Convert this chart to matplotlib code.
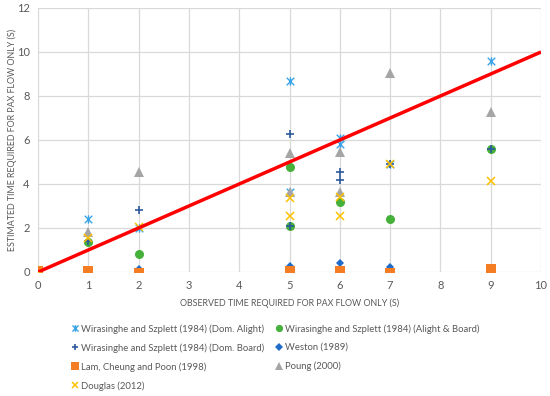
import matplotlib
matplotlib.use("Agg")
import matplotlib.pyplot as plt
from matplotlib.path import Path

plt.rcParams['font.family'] = ['Lato', 'DejaVu Sans']

# Data
dom_alight_x = [0, 1, 2, 5, 5, 6, 6, 7, 9]
dom_alight_y = [0, 2.4, 2.0, 8.68, 3.62, 6.08, 5.82, 4.91, 9.6]

alight_board_x = [0, 1, 2, 5, 5, 6, 7, 9]
alight_board_y = [0, 1.35, 0.8, 4.79, 2.09, 3.17, 2.4, 5.59]

dom_board_x = [0, 1, 2, 5, 5, 6, 6, 7, 9]
dom_board_y = [0, 1.4, 2.8, 6.27, 2.09, 4.55, 4.18, 4.91, 5.59]

weston_x = [0, 1, 2, 5, 6, 7, 9]
weston_y = [0, 0.0, 0.15, 0.27, 0.39, 0.21, 0.1]

lam_x = [0, 1, 2, 5, 6, 7, 9]
lam_y = [0.03, 0.05, -0.04, 0.05, 0.04, -0.03, 0.12]

poung_x = [1, 2, 5, 5, 6, 6, 7, 9]
poung_y = [1.82, 4.55, 5.42, 3.64, 5.45, 3.63, 9.06, 7.26]

douglas_x = [0, 1, 2, 5, 5, 6, 6, 7, 9]
douglas_y = [0, 1.55, 2.05, 3.38, 2.55, 3.42, 2.55, 4.91, 4.12]

line_x = [0, 10]
line_y = [0, 10]

xlabel = "OBSERVED TIME REQUIRED FOR PAX FLOW ONLY (S)"
ylabel = "ESTIMATED TIME REQUIRED FOR PAX FLOW ONLY (S)"

star = Path([(-1, -1), (1, 1), (-1, 1), (1, -1), (0, -1.1), (0, 1.1)],
            [Path.MOVETO, Path.LINETO, Path.MOVETO, Path.LINETO, Path.MOVETO, Path.LINETO])

fig = plt.figure(figsize=(5.5, 3.96), dpi=100)
ax = fig.add_axes([38/550, 1 - 272/396, (541-38)/550, (272-8)/396])

series = [
    ("Wirasinghe and Szplett (1984) (Dom. Alight)", dom_alight_x, dom_alight_y, star, "#3AA3E8", 6, 1.0),
    ("Wirasinghe and Szplett (1984) (Alight & Board)", alight_board_x, alight_board_y, "o", "#45B03A", 6.5, 0),
    ("Wirasinghe and Szplett (1984) (Dom. Board)", dom_board_x, dom_board_y, "+", "#2C5A9C", 6, 1.2),
    ("Weston (1989)", weston_x, weston_y, "D", "#1F6BC8", 4.5, 0),
    ("Lam, Cheung and Poon (1998)", lam_x, lam_y, "s", "#F47C22", 6.5, 0),
    ("Poung (2000)", poung_x, poung_y, "^", "#A5A5A5", 6.5, 0),
    ("Douglas (2012)", douglas_x, douglas_y, "x", "#FFC000", 6, 1.1),
]

handles = {}
for i, (name, xs, ys, m, c, ms, mew) in enumerate(series):
    filled = m in ("o", "D", "s", "^")
    h, = ax.plot(xs, ys, linestyle="none", marker=m, markersize=ms,
                 color=c, markeredgewidth=mew if not filled else 0,
                 markerfacecolor=c, label=name, zorder=3 + i)
    handles[name] = h

ax.plot(line_x, line_y, color="#FF0000", linewidth=2.5, zorder=20, solid_capstyle="butt")

ax.set_xlim(0, 10)
ax.set_ylim(0, 12)
ax.set_xticks(range(0, 11))
ax.set_yticks(range(0, 13, 2))
ax.grid(True, color="#D9D9D9", linewidth=0.9)
ax.set_axisbelow(True)
for s in ax.spines.values():
    s.set_visible(False)
ax.tick_params(length=0, labelsize=8, colors="#595959", pad=6)
ax.set_xlabel(xlabel, fontsize=6.4, color="#595959")
ax.xaxis.set_label_coords(0.5, -(303 - 272) / 264, transform=ax.transAxes)
ax.set_ylabel(ylabel, fontsize=6.4, color="#595959")
ax.yaxis.set_label_coords(-(38 - 12) / 503, 0.5, transform=ax.transAxes)
ax.xaxis.label.set_va("center")
ax.yaxis.label.set_va("center")
for lab in ax.get_xticklabels() + ax.get_yticklabels():
    lab.set_clip_on(False)

order = [series[0][0], series[2][0], series[4][0], series[6][0],
         series[1][0], series[3][0], series[5][0]]
leg = fig.legend([handles[n] for n in order], order, ncol=2,
                 loc="upper left", bbox_to_anchor=(72/550, 1 - 324/396),
                 frameon=False, fontsize=6.8, handlelength=0.6, handletextpad=0.35,
                 columnspacing=1.3, labelspacing=1.0, markerscale=0.8,
                 borderaxespad=0, borderpad=0)
for t in leg.get_texts():
    t.set_color("#595959")

fig.savefig("out.png", dpi=100)
